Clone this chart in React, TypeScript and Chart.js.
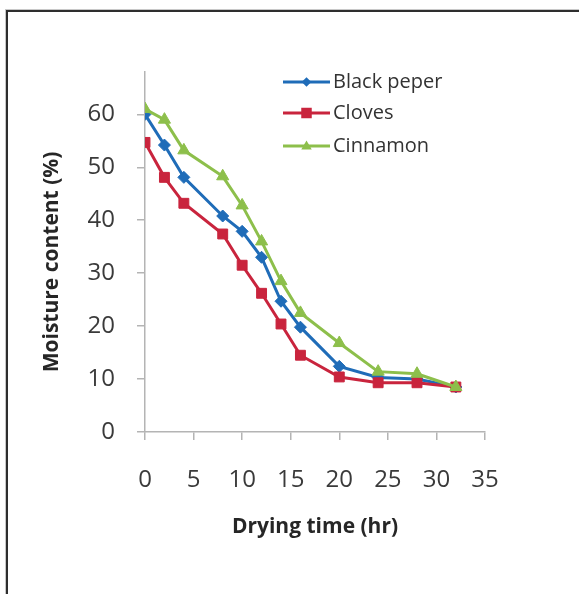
import React, { useEffect, useRef } from "react";
import { Chart, registerables } from "chart.js";

Chart.register(...registerables);

// ---- data ----
const dryingTime = [0, 2, 4, 8, 10, 12, 14, 16, 20, 24, 28, 32];
const blackPepper = [60, 54.2, 48.1, 40.8, 37.9, 33, 24.7, 19.8, 12.4, 10.3, 10.0, 8.5];
const cloves = [54.7, 48.1, 43.2, 37.4, 31.5, 26.2, 20.4, 14.5, 10.4, 9.3, 9.3, 8.5];
const cinnamon = [61, 59, 53.2, 48.3, 42.8, 36, 28.5, 22.5, 16.8, 11.4, 11, 8.5];
const seriesNames = ["Black peper", "Cloves", "Cinnamon"];
const xTicks = [0, 5, 10, 15, 20, 25, 30, 35];
const yTicks = [0, 10, 20, 30, 40, 50, 60];
const xTitle = "Drying time (hr)";
const yTitle = "Moisture content (%)";

const colors = ["#1f6cb8", "#c9243d", "#8dbf4b"];
const pointStyles = ["rectRot", "rect", "triangle"];
const pointRadii = [6, 7, 7];

const FONT = "'Open Sans', Lato, sans-serif";

const overlayPlugin = {
  id: "overlay",
  afterDraw(chart: any) {
    const ctx = chart.ctx as CanvasRenderingContext2D;
    const ca = chart.chartArea;
    ctx.save();
    ctx.fillStyle = "#262626";
    ctx.font = `bold 21px ${FONT}`;
    ctx.textAlign = "center";
    ctx.textBaseline = "middle";
    ctx.fillText(xTitle, (ca.left + ca.right) / 2, ca.bottom + 95);
    ctx.save();
    ctx.translate(ca.left - 93, (ca.top + ca.bottom) / 2 + 10);
    ctx.rotate(-Math.PI / 2);
    ctx.fillText(yTitle, 0, 0);
    ctx.restore();

    // legend
    const lx0 = ca.left + 138;
    const lx1 = ca.left + 185;
    const rows = [ca.top + 10, ca.top + 41, ca.top + 74];
    chart.data.datasets.forEach((ds: any, i: number) => {
      const y = rows[i];
      ctx.strokeStyle = ds.borderColor;
      ctx.lineWidth = 3;
      ctx.beginPath();
      ctx.moveTo(lx0, y);
      ctx.lineTo(lx1, y);
      ctx.stroke();
      ctx.fillStyle = ds.pointBackgroundColor;
      const r = ds.pointRadius;
      const cx = (lx0 + lx1) / 2;
      ctx.beginPath();
      if (ds.pointStyle === "rect") {
        ctx.rect(cx - r * 0.75, y - r * 0.75, r * 1.5, r * 1.5);
      } else if (ds.pointStyle === "rectRot") {
        ctx.moveTo(cx, y - r * 0.8);
        ctx.lineTo(cx + r * 0.8, y);
        ctx.lineTo(cx, y + r * 0.8);
        ctx.lineTo(cx - r * 0.8, y);
        ctx.closePath();
      } else {
        ctx.moveTo(cx, y - r * 0.8);
        ctx.lineTo(cx + r * 0.75, y + r * 0.5);
        ctx.lineTo(cx - r * 0.75, y + r * 0.5);
        ctx.closePath();
      }
      ctx.fill();
      ctx.fillStyle = "#333333";
      ctx.font = `20px ${FONT}`;
      ctx.textAlign = "left";
      ctx.textBaseline = "middle";
      ctx.fillText(ds.label, lx1 + 3, y);
    });
    ctx.restore();
  },
};

export default function App() {
  const ref = useRef<HTMLCanvasElement>(null);

  useEffect(() => {
    if (!ref.current) return;
    const seriesData = [blackPepper, cloves, cinnamon];
    const chart = new Chart(ref.current, {
      type: "line",
      data: {
        datasets: seriesData.map((vals, i) => ({
          label: seriesNames[i],
          data: dryingTime.map((x, j) => ({ x, y: vals[j] })),
          borderColor: colors[i],
          backgroundColor: colors[i],
          pointBackgroundColor: colors[i],
          pointBorderColor: colors[i],
          pointStyle: pointStyles[i],
          pointRadius: pointRadii[i],
          pointBorderWidth: 1,
          borderWidth: 3,
          tension: 0,
          fill: false,
          order: 3 - i,
        })),
      },
      options: {
        animation: false,
        responsive: false,
        maintainAspectRatio: false,
        layout: { padding: { left: 0, top: 72, right: 94, bottom: 0 } },
        plugins: {
          legend: { display: false },
          tooltip: { enabled: false },
          title: { display: false },
        },
        scales: {
          x: {
            type: "linear",
            min: 0,
            max: 35,
            afterFit: (s: any) => {
              s.height = 162;
            },
            afterBuildTicks: (s: any) => {
              s.ticks = xTicks.map((v) => ({ value: v }));
            },
            grid: {
              display: true,
              drawOnChartArea: false,
              drawTicks: true,
              tickLength: 8,
              color: "#b4b4b4",
              lineWidth: 1.5,
            },
            border: { display: true, color: "#b4b4b4", width: 1.5 },
            ticks: {
              padding: 26,
              maxRotation: 0,
              color: "#3a3a3a",
              font: { family: FONT, size: 24 },
            },
          },
          y: {
            type: "linear",
            min: 0,
            max: 68,
            afterFit: (s: any) => {
              s.width = 145;
            },
            afterBuildTicks: (s: any) => {
              s.ticks = yTicks.map((v) => ({ value: v }));
            },
            grid: {
              display: true,
              drawOnChartArea: false,
              drawTicks: true,
              tickLength: 8,
              color: "#b4b4b4",
              lineWidth: 1.5,
            },
            border: { display: true, color: "#b4b4b4", width: 1.5 },
            ticks: {
              padding: 22,
              color: "#3a3a3a",
              font: { family: FONT, size: 24 },
            },
          },
        },
      },
      plugins: [overlayPlugin],
    });
    return () => chart.destroy();
  }, []);

  return (
    <div
      style={{
        position: "fixed",
        left: 0,
        top: 0,
        width: 579,
        height: 594,
        background: "#ffffff",
        overflow: "hidden",
      }}
    >
      <div
        style={{
          position: "absolute",
          left: 5,
          top: 9,
          width: 700,
          height: 700,
          borderTop: "1px solid #c8c8c8",
          borderLeft: "1px solid #c8c8c8",
        }}
      />
      <div
        style={{
          position: "absolute",
          left: 6,
          top: 10,
          width: 700,
          height: 700,
          borderTop: "2px solid #2e2e2e",
          borderLeft: "2px solid #2e2e2e",
        }}
      />
      <canvas
        ref={ref}
        width={579}
        height={594}
        style={{ position: "absolute", left: 0, top: 0, width: 579, height: 594 }}
      />
    </div>
  );
}
